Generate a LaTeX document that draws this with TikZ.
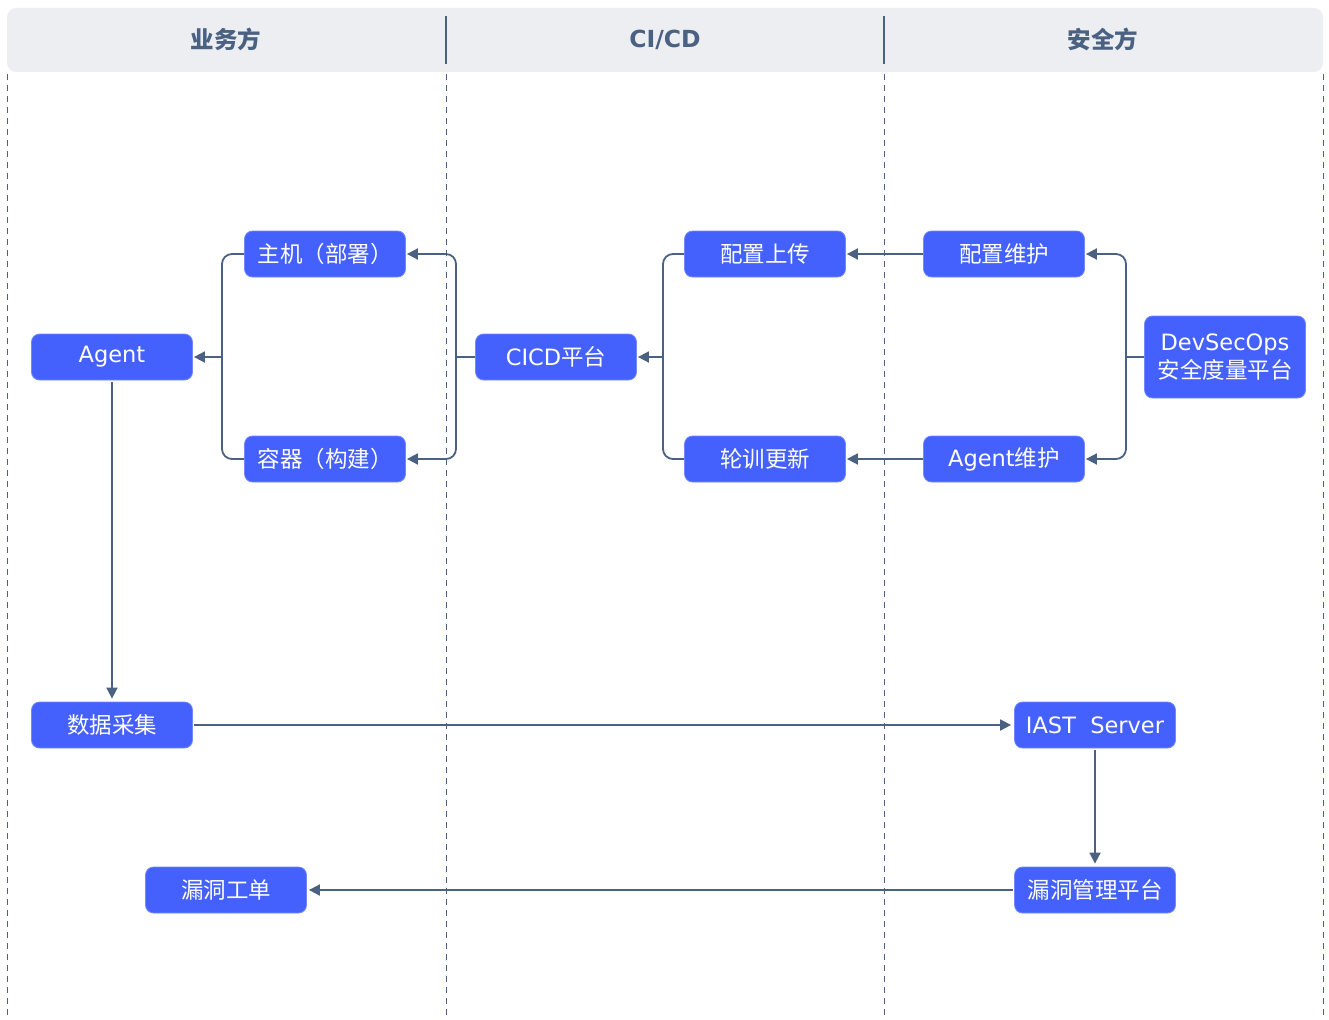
\documentclass[tikz,border=0pt]{standalone}
\usepackage{fontspec}
\setmainfont{Noto Sans CJK SC}
\newfontfamily\latin{DejaVu Sans}
\usetikzlibrary{arrows.meta}
\definecolor{boxblue}{HTML}{4461FE}
\definecolor{slate}{HTML}{4A6182}
\definecolor{headbg}{HTML}{ECEEF2}
\begin{document}
\begin{tikzpicture}[x=1pt,y=-1pt,
  box/.style={fill=boxblue, draw=boxblue!75!white, line width=0.8pt, text=white, rounded corners=8pt, minimum width=161pt, minimum height=46pt, inner sep=0pt, font=\fontsize{22.5}{30}\selectfont, align=center},
  conn/.style={draw=slate, line width=1.8pt},
  arr/.style={conn, -{Triangle[length=11pt,width=11pt]}},
  head/.style={text=slate, font=\fontsize{23.5}{28}\selectfont\bfseries},
  lane/.style={draw=slate, line width=1pt, dash pattern=on 6pt off 5pt}]
\useasboundingbox (0,0) rectangle (1329,1019);
% header
\fill[headbg, rounded corners=9pt] (7,8) rectangle (1323,72);
\draw[slate, line width=1.2pt] (446,16) -- (446,64);
\draw[slate, line width=1.2pt] (884,16) -- (884,64);
\node[head] (h1) at (226,39) {业务方};
\node[head] (h2) at (665,40) {\latin\bfseries CI/CD};
\node[head] (h3) at (1103,39) {安全方};
% lanes
\foreach \x in {7,446,884,1323} \draw[lane] (\x,74) -- (\x,1019);
% nodes
\node[box] (zhuji) at (325,254) {主机（部署）};
\node[box] (rongqi) at (325,459) {容器（构建）};
\node[box] (agent) at (112,357) {\raisebox{-2pt}{\latin Agent}};
\node[box] (cicd) at (556,357) {{\latin CICD}平台};
\node[box] (pzsc) at (765,254) {配置上传};
\node[box] (lxgx) at (765,459) {轮训更新};
\node[box] (pzwh) at (1004,254) {配置维护};
\node[box] (agwh) at (1004,459) {{\latin Agent}维护};
\node[box, minimum height=82pt] (dso) at (1225,357) {{\latin DevSecOps}\\[-2pt]安全度量平台};
\node[box] (sjcj) at (112,725) {数据采集};
\node[box] (iast) at (1095,725) {\latin IAST\ \ Server};
\node[box] (ldgl) at (1095,890) {漏洞管理平台};
\node[box] (ldgd) at (226,890) {漏洞工单};
% brackets
\coordinate (b1) at (222,357);
\coordinate (b2) at (456,357);
\coordinate (b3) at (663,357);
\coordinate (b4) at (1126,357);
\draw[conn, rounded corners=10pt] (zhuji.west) -| (b1) |- (rongqi.west);
\draw[arr, shorten >=1pt] (b1) -- (agent.east);
\draw[conn] (cicd.west) -- (b2);
\draw[arr, rounded corners=10pt, shorten >=1pt] (b2) |- (zhuji.east);
\draw[arr, rounded corners=10pt, shorten >=1pt] (b2) |- (rongqi.east);
\draw[conn, rounded corners=10pt] (pzsc.west) -| (b3) |- (lxgx.west);
\draw[arr, shorten >=1pt] (b3) -- (cicd.east);
\draw[arr, shorten >=1pt] (pzwh.west) -- (pzsc.east);
\draw[arr, shorten >=1pt] (agwh.west) -- (lxgx.east);
\draw[conn] (dso.west) -- (b4);
\draw[arr, rounded corners=10pt, shorten >=1pt] (b4) |- (pzwh.east);
\draw[arr, rounded corners=10pt, shorten >=1pt] (b4) |- (agwh.east);
% lower flow
\draw[arr, shorten <=2pt, shorten >=3pt] (agent.south) -- (sjcj.north);
\draw[arr, shorten <=1pt, shorten >=3pt] (sjcj.east) -- (iast.west);
\draw[arr, shorten <=2pt, shorten >=3pt] (iast.south) -- (ldgl.north);
\draw[arr, shorten <=1pt, shorten >=2pt] (ldgl.west) -- (ldgd.east);
\end{tikzpicture}
\end{document}
